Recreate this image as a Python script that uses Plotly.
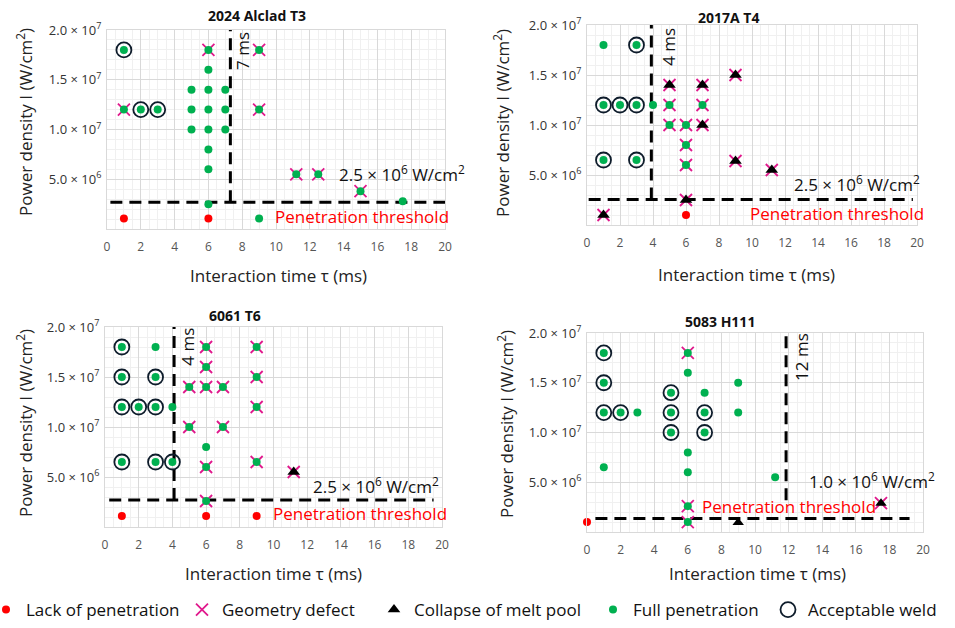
import plotly.graph_objects as go

FONT = "Open Sans"
W, H = 955, 628

panel_titles = ["2024 Alclad T3", "2017A T4", "6061 T6", "5083 H111"]
threshold_labels = ["2.5 × 10<sup>6</sup> W/cm<sup>2</sup>", "2.5 × 10<sup>6</sup> W/cm<sup>2</sup>",
                    "2.5 × 10<sup>6</sup> W/cm<sup>2</sup>", "1.0 × 10<sup>6</sup> W/cm<sup>2</sup>"]
time_labels = ["7 ms", "4 ms", "4 ms", "12 ms"]

x_ticks = [0, 2, 4, 6, 8, 10, 12, 14, 16, 18, 20]
y_tickvals = [5e6, 1e7, 1.5e7, 2e7]
y_ticktext = ["5.0 × 10<sup>6</sup>", "1.0 × 10<sup>7</sup>", "1.5 × 10<sup>7</sup>", "2.0 × 10<sup>7</sup>"]

# ---------- Panel 1: 2024 Alclad T3 ----------
p1_full_x = [1, 6, 9, 6, 5, 6, 7, 1, 2, 3, 5, 6, 7, 9, 5, 6, 7, 6, 6, 11.2, 12.5, 15, 17.5, 6, 9]
p1_full_y = [1.8e7, 1.8e7, 1.8e7, 1.6e7, 1.4e7, 1.4e7, 1.4e7, 1.2e7, 1.2e7, 1.2e7, 1.2e7, 1.2e7, 1.2e7, 1.2e7,
             1.0e7, 1.0e7, 1.0e7, 8e6, 6e6, 5.5e6, 5.5e6, 3.8e6, 2.8e6, 2.5e6, 1.05e6]
p1_ok_x = [1, 2, 3]
p1_ok_y = [1.8e7, 1.2e7, 1.2e7]
p1_defect_x = [6, 9, 1, 9, 11.2, 12.5, 15]
p1_defect_y = [1.8e7, 1.8e7, 1.2e7, 1.2e7, 5.5e6, 5.5e6, 3.8e6]
p1_collapse_x = []
p1_collapse_y = []
p1_lack_x = [1, 6]
p1_lack_y = [1.05e6, 1.05e6]

# ---------- Panel 2: 2017A T4 ----------
p2_full_x = [1, 3, 1, 2, 3, 4, 5, 7, 5, 6, 6, 1, 3, 6]
p2_full_y = [1.8e7, 1.8e7, 1.2e7, 1.2e7, 1.2e7, 1.2e7, 1.2e7, 1.2e7, 1.0e7, 1.0e7, 8e6, 6.5e6, 6.5e6, 6e6]
p2_ok_x = [3, 1, 2, 3, 1, 3]
p2_ok_y = [1.8e7, 1.2e7, 1.2e7, 1.2e7, 6.5e6, 6.5e6]
p2_defect_x = [9, 5, 7, 5, 7, 5, 6, 7, 6, 6, 9, 11.2, 6, 1]
p2_defect_y = [1.5e7, 1.4e7, 1.4e7, 1.2e7, 1.2e7, 1.0e7, 1.0e7, 1.0e7, 8e6, 6e6, 6.4e6, 5.5e6, 2.5e6, 1.0e6]
p2_collapse_x = [9, 5, 7, 7, 9, 11.2, 6, 1]
p2_collapse_y = [1.5e7, 1.4e7, 1.4e7, 1.0e7, 6.4e6, 5.5e6, 2.5e6, 1.0e6]
p2_lack_x = [6]
p2_lack_y = [1.0e6]

# ---------- Panel 3: 6061 T6 ----------
p3_full_x = [1, 3, 6, 9, 6, 1, 3, 9, 5, 6, 7, 1, 2, 3, 4, 9, 5, 7, 6, 1, 3, 4, 6, 9, 6]
p3_full_y = [1.8e7, 1.8e7, 1.8e7, 1.8e7, 1.6e7, 1.5e7, 1.5e7, 1.5e7, 1.4e7, 1.4e7, 1.4e7,
             1.2e7, 1.2e7, 1.2e7, 1.2e7, 1.2e7, 1.0e7, 1.0e7, 8e6, 6.5e6, 6.5e6, 6.5e6, 6e6, 6.5e6, 2.6e6]
p3_ok_x = [1, 1, 3, 1, 2, 3, 1, 3, 4]
p3_ok_y = [1.8e7, 1.5e7, 1.5e7, 1.2e7, 1.2e7, 1.2e7, 6.5e6, 6.5e6, 6.5e6]
p3_defect_x = [6, 9, 6, 9, 5, 6, 7, 9, 5, 7, 6, 9, 11.2, 6]
p3_defect_y = [1.8e7, 1.8e7, 1.6e7, 1.5e7, 1.4e7, 1.4e7, 1.4e7, 1.2e7, 1.0e7, 1.0e7, 6e6, 6.5e6, 5.5e6, 2.6e6]
p3_collapse_x = [11.2]
p3_collapse_y = [5.5e6]
p3_lack_x = [1, 6, 9]
p3_lack_y = [1.1e6, 1.1e6, 1.1e6]

# ---------- Panel 4: 5083 H111 ----------
p4_full_x = [1, 6, 6, 1, 9, 5, 7, 1, 2, 3, 5, 7, 9, 5, 7, 6, 1, 6, 11.2, 6, 6]
p4_full_y = [1.8e7, 1.8e7, 1.6e7, 1.5e7, 1.5e7, 1.4e7, 1.4e7, 1.2e7, 1.2e7, 1.2e7, 1.2e7, 1.2e7, 1.2e7,
             1.0e7, 1.0e7, 8e6, 6.5e6, 6e6, 5.5e6, 2.6e6, 1.0e6]
p4_ok_x = [1, 1, 5, 1, 2, 5, 7, 5, 7]
p4_ok_y = [1.8e7, 1.5e7, 1.4e7, 1.2e7, 1.2e7, 1.2e7, 1.2e7, 1.0e7, 1.0e7]
p4_defect_x = [6, 6, 17.5, 6]
p4_defect_y = [1.8e7, 2.6e6, 2.9e6, 1.0e6]
p4_collapse_x = [17.5, 9]
p4_collapse_y = [2.9e6, 0.95e6]
p4_lack_x = [0]
p4_lack_y = [1.0e6]

# threshold (dashed) lines
thr_y = [2.7e6, 2.55e6, 2.7e6, 1.35e6]
thr_x0 = [0.2, 0.1, 0.25, 0.5]
thr_x1 = [20, 19.75, 19.5, 19.2]
vline_x = [7.3, 3.9, 4.1, 11.85]
vline_y0 = [2.7e6, 2.55e6, 2.7e6, 3.2e6]
vline_y1 = [2.0e7, 2.0e7, 2.0e7, 2.0e7]

# label anchor positions (data coords)
time_lbl_x = [8.05, 4.9, 4.85, 12.8]
time_lbl_y = [1.79e7, 1.78e7, 1.8e7, 1.76e7]
thr_lbl_x = [13.6, 12.4, 12.2, 13.1]
thr_lbl_y = [5.6e6, 4.2e6, 4.2e6, 5.2e6]
pen_lbl_x = [9.8, 9.75, 9.85, 6.75]
pen_lbl_y = [1.25e6, 1.17e6, 1.4e6, 2.6e6]

panels = [
    (p1_full_x, p1_full_y, p1_ok_x, p1_ok_y, p1_defect_x, p1_defect_y, p1_collapse_x, p1_collapse_y, p1_lack_x, p1_lack_y),
    (p2_full_x, p2_full_y, p2_ok_x, p2_ok_y, p2_defect_x, p2_defect_y, p2_collapse_x, p2_collapse_y, p2_lack_x, p2_lack_y),
    (p3_full_x, p3_full_y, p3_ok_x, p3_ok_y, p3_defect_x, p3_defect_y, p3_collapse_x, p3_collapse_y, p3_lack_x, p3_lack_y),
    (p4_full_x, p4_full_y, p4_ok_x, p4_ok_y, p4_defect_x, p4_defect_y, p4_collapse_x, p4_collapse_y, p4_lack_x, p4_lack_y),
]

# layout boxes in pixels (left, right, top, bottom)
boxes = [(107, 445, 30, 229), (587, 917, 25, 225), (105, 442, 327, 527), (587, 923, 333, 532)]
title_pos = [(257, 16), (728, 17), (235, 315), (720, 321)]
ytitle_pos = [(24, 122), (501, 123), (24, 423), (505, 424)]
xtitle_pos = [(278, 275), (746, 274), (273, 573), (757, 573)]

# legend entry widths (px) and which legend box each entry goes to
legend_widths = {"Lack of penetration": 151, "Geometry defect": 147, "Collapse of melt pool": 185,
                 "Full penetration": 130, "Acceptable weld": 140}
legend_box = {"Lack of penetration": "legend", "Geometry defect": "legend", "Collapse of melt pool": "legend",
              "Full penetration": "legend2", "Acceptable weld": "legend2"}

GREEN = "#00b050"
RED = "#ff0000"
MAGENTA = "#e0188c"
NAVY = "#0e1c2b"

fig = go.Figure()
annotations = []

def px2paper(x, y):
    return x / W, 1 - y / H

legend_shown = set()
for i, (fx, fy, ox, oy, dx, dy, cx, cy, lx, ly) in enumerate(panels):
    n = "" if i == 0 else str(i + 1)
    xa, ya = "x" + n, "y" + n
    # dashed threshold lines
    fig.add_trace(go.Scatter(x=[thr_x0[i], thr_x1[i]], y=[thr_y[i], thr_y[i]], mode="lines",
                             line=dict(color="black", width=3, dash="12px,7px"),
                             showlegend=False, hoverinfo="skip", xaxis=xa, yaxis=ya))
    fig.add_trace(go.Scatter(x=[vline_x[i], vline_x[i]], y=[vline_y0[i], vline_y1[i]], mode="lines",
                             line=dict(color="black", width=3, dash="12px,7px"),
                             showlegend=False, hoverinfo="skip", xaxis=xa, yaxis=ya))
    series = [
        ("Geometry defect", dx, dy, dict(symbol="x-thin-open", size=12, color=MAGENTA, line=dict(width=1.8)), 2),
        ("Full penetration", fx, fy, dict(symbol="circle", size=8, color=GREEN), 4),
        ("Collapse of melt pool", cx, cy, dict(symbol="triangle-up", size=11 if i < 3 else 10, color="black"), 3),
        ("Acceptable weld", ox, oy, dict(symbol="circle-open", size=15, color=NAVY, line=dict(width=1.8)), 5),
        ("Lack of penetration", lx, ly, dict(symbol="circle", size=8, color=RED), 1),
    ]
    for name, sx, sy, mk, rank in series:
        show = (name not in legend_shown) and len(sx) > 0
        if show:
            legend_shown.add(name)
        fig.add_trace(go.Scatter(x=sx, y=sy, mode="markers", name=name, marker=mk,
                                 legendgroup=name, showlegend=show, legendrank=rank,
                                 legendwidth=legend_widths[name], legend=legend_box[name],
                                 cliponaxis=False, xaxis=xa, yaxis=ya))

    l, r, t, b = boxes[i]
    axcommon = dict(showgrid=True, gridcolor="#d9d9d9", gridwidth=1, zeroline=False,
                    showline=True, linecolor="#d9d9d9", linewidth=1, mirror=True,
                    ticks="", fixedrange=True, automargin=False)
    fig.layout["xaxis" + n] = dict(axcommon, domain=[l / W, r / W], range=[0, 20], tickvals=x_ticks,
                                   anchor=ya, tickfont=dict(family=FONT, size=12, color="#555555"),
                                   ticklabelstandoff=7,
                                   minor=dict(dtick=0.5, tick0=0, showgrid=True, gridcolor="#f0f0f0", gridwidth=1))
    fig.layout["yaxis" + n] = dict(axcommon, domain=[1 - b / H, 1 - t / H], range=[0, 2e7],
                                   tickvals=y_tickvals, ticktext=y_ticktext, anchor=xa,
                                   tickfont=dict(family=FONT, size=13, color="#333333"),
                                   ticklabelstandoff=2,
                                   minor=dict(dtick=1e6, tick0=0, showgrid=True, gridcolor="#f0f0f0", gridwidth=1))

    # titles
    tx, ty = px2paper(*title_pos[i])
    annotations.append(dict(x=tx, y=ty, xref="paper", yref="paper", xanchor="center", yanchor="middle",
                            text="<b>" + panel_titles[i] + "</b>",
                            showarrow=False, font=dict(family=FONT, size=14, color="#111111")))
    yx, yy = px2paper(*ytitle_pos[i])
    annotations.append(dict(x=yx, y=yy, xref="paper", yref="paper", xanchor="center", yanchor="middle",
                            text="Power density I (W/cm<sup>2</sup>)",
                            showarrow=False, textangle=-90, font=dict(family=FONT, size=17, color="#222222")))
    xx, xy = px2paper(*xtitle_pos[i])
    annotations.append(dict(x=xx, y=xy, xref="paper", yref="paper", xanchor="center", yanchor="middle",
                            text="Interaction time τ (ms)",
                            showarrow=False, font=dict(family=FONT, size=17, color="#222222")))
    # in-plot labels
    annotations.append(dict(x=time_lbl_x[i], y=time_lbl_y[i], xref=xa, yref=ya, text=time_labels[i],
                            showarrow=False, textangle=-90, font=dict(family=FONT, size=17, color="#111111")))
    annotations.append(dict(x=thr_lbl_x[i], y=thr_lbl_y[i], xref=xa, yref=ya, text=threshold_labels[i],
                            showarrow=False, xanchor="left", font=dict(family=FONT, size=17, color="#111111")))
    annotations.append(dict(x=pen_lbl_x[i], y=pen_lbl_y[i], xref=xa, yref=ya, text="Penetration threshold",
                            showarrow=False, xanchor="left", font=dict(family=FONT, size=17, color=RED)))

legend_common = dict(orientation="h", xanchor="left", y=-0.0001, yanchor="bottom",
                     font=dict(family=FONT, size=17, color="#111111"), itemwidth=30,
                     bgcolor="rgba(0,0,0,0)", traceorder="normal")

fig.update_layout(
    width=W, height=H,
    margin=dict(l=0, r=0, t=0, b=0, autoexpand=False),
    paper_bgcolor="white", plot_bgcolor="white",
    annotations=annotations,
    showlegend=True,
    legend=dict(legend_common, x=-14 / W),
    legend2=dict(legend_common, x=593 / W),
    font=dict(family=FONT),
)

fig.write_html("out.html", config={"displayModeBar": False},
               post_script="document.body.style.margin='0';document.body.style.overflow='hidden';")
